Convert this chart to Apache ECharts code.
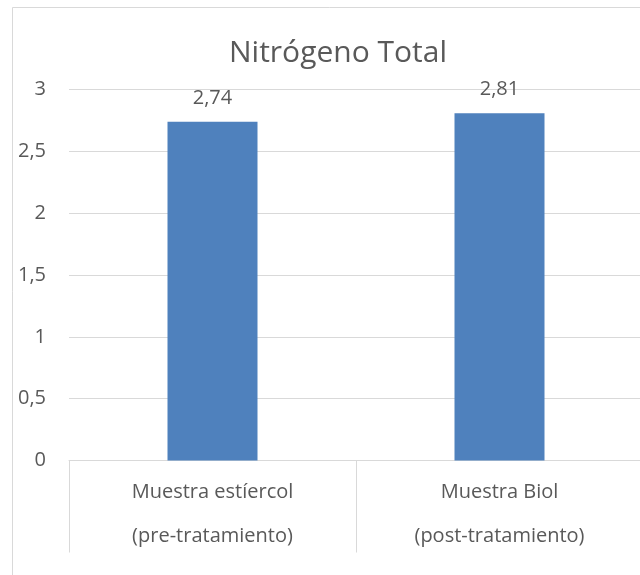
<!DOCTYPE html>
<html>
<head>
<meta charset="utf-8">
<script src="https://cdn.jsdelivr.net/npm/echarts@6/dist/echarts.min.js"></script>
<style>
  html, body { margin: 0; padding: 0; background: #ffffff; overflow: hidden; }
  /* the drawing area runs a few pixels past the right edge of the window */
  #chart { width: 646px; height: 575px; }
</style>
</head>
<body>
<div id="chart"></div>
<script>
// Nitrógeno total antes y después del tratamiento
const titleText = 'Nitrógeno Total';
const categories = [
  'Muestra estíercol\n(pre-tratamiento)',
  'Muestra Biol\n(post-tratamiento)'
];
const nitrogenValues = [2.74, 2.81];
const yTicks = { min: 0, max: 3, interval: 0.5 };

const FONT = '"Open Sans", "Noto Sans", sans-serif';
const TEXT = '#595959';
const LINE = '#d9d9d9';

const comma = v => String(v).replace('.', ',');

const chart = echarts.init(document.getElementById('chart'), null, { renderer: 'canvas' });
chart.setOption({
  animation: false,
  backgroundColor: '#ffffff',
  title: {
    text: titleText,
    left: 333,
    top: 33,
    textAlign: 'center',
    textStyle: { fontFamily: FONT, fontSize: 30, fontWeight: 'normal', color: TEXT }
  },
  graphic: [{
    type: 'rect',
    silent: true,
    z: -1,
    shape: { x: 12.5, y: 7.5, width: 800, height: 800 },
    style: { fill: 'none', stroke: LINE, lineWidth: 1 }
  }],
  grid: { left: 69, right: 3, top: 89.7, bottom: 114.5, containLabel: false },
  xAxis: {
    type: 'category',
    data: categories,
    boundaryGap: true,
    axisLine: { show: true, lineStyle: { color: LINE, width: 1 } },
    axisTick: { show: true, length: 92, lineStyle: { color: LINE, width: 1 } },
    axisLabel: {
      margin: 10,
      fontFamily: FONT, fontSize: 20, color: TEXT, lineHeight: 44,
      interval: 0
    },
    splitLine: { show: false }
  },
  yAxis: {
    type: 'value',
    min: yTicks.min,
    max: yTicks.max,
    interval: yTicks.interval,
    axisLine: { show: false },
    axisTick: { show: false },
    axisLabel: {
      margin: 23,
      fontFamily: FONT, fontSize: 20, color: TEXT,
      formatter: v => comma(v)
    },
    splitLine: { show: true, lineStyle: { color: LINE, width: 1 } }
  },
  series: [{
    type: 'bar',
    data: nitrogenValues,
    barWidth: 90,
    itemStyle: { color: '#4f81bd' },
    label: {
      show: true,
      position: 'top',
      distance: 14,
      fontFamily: FONT, fontSize: 20, color: TEXT,
      formatter: p => comma(p.value)
    }
  }]
});
</script>
</body>
</html>
